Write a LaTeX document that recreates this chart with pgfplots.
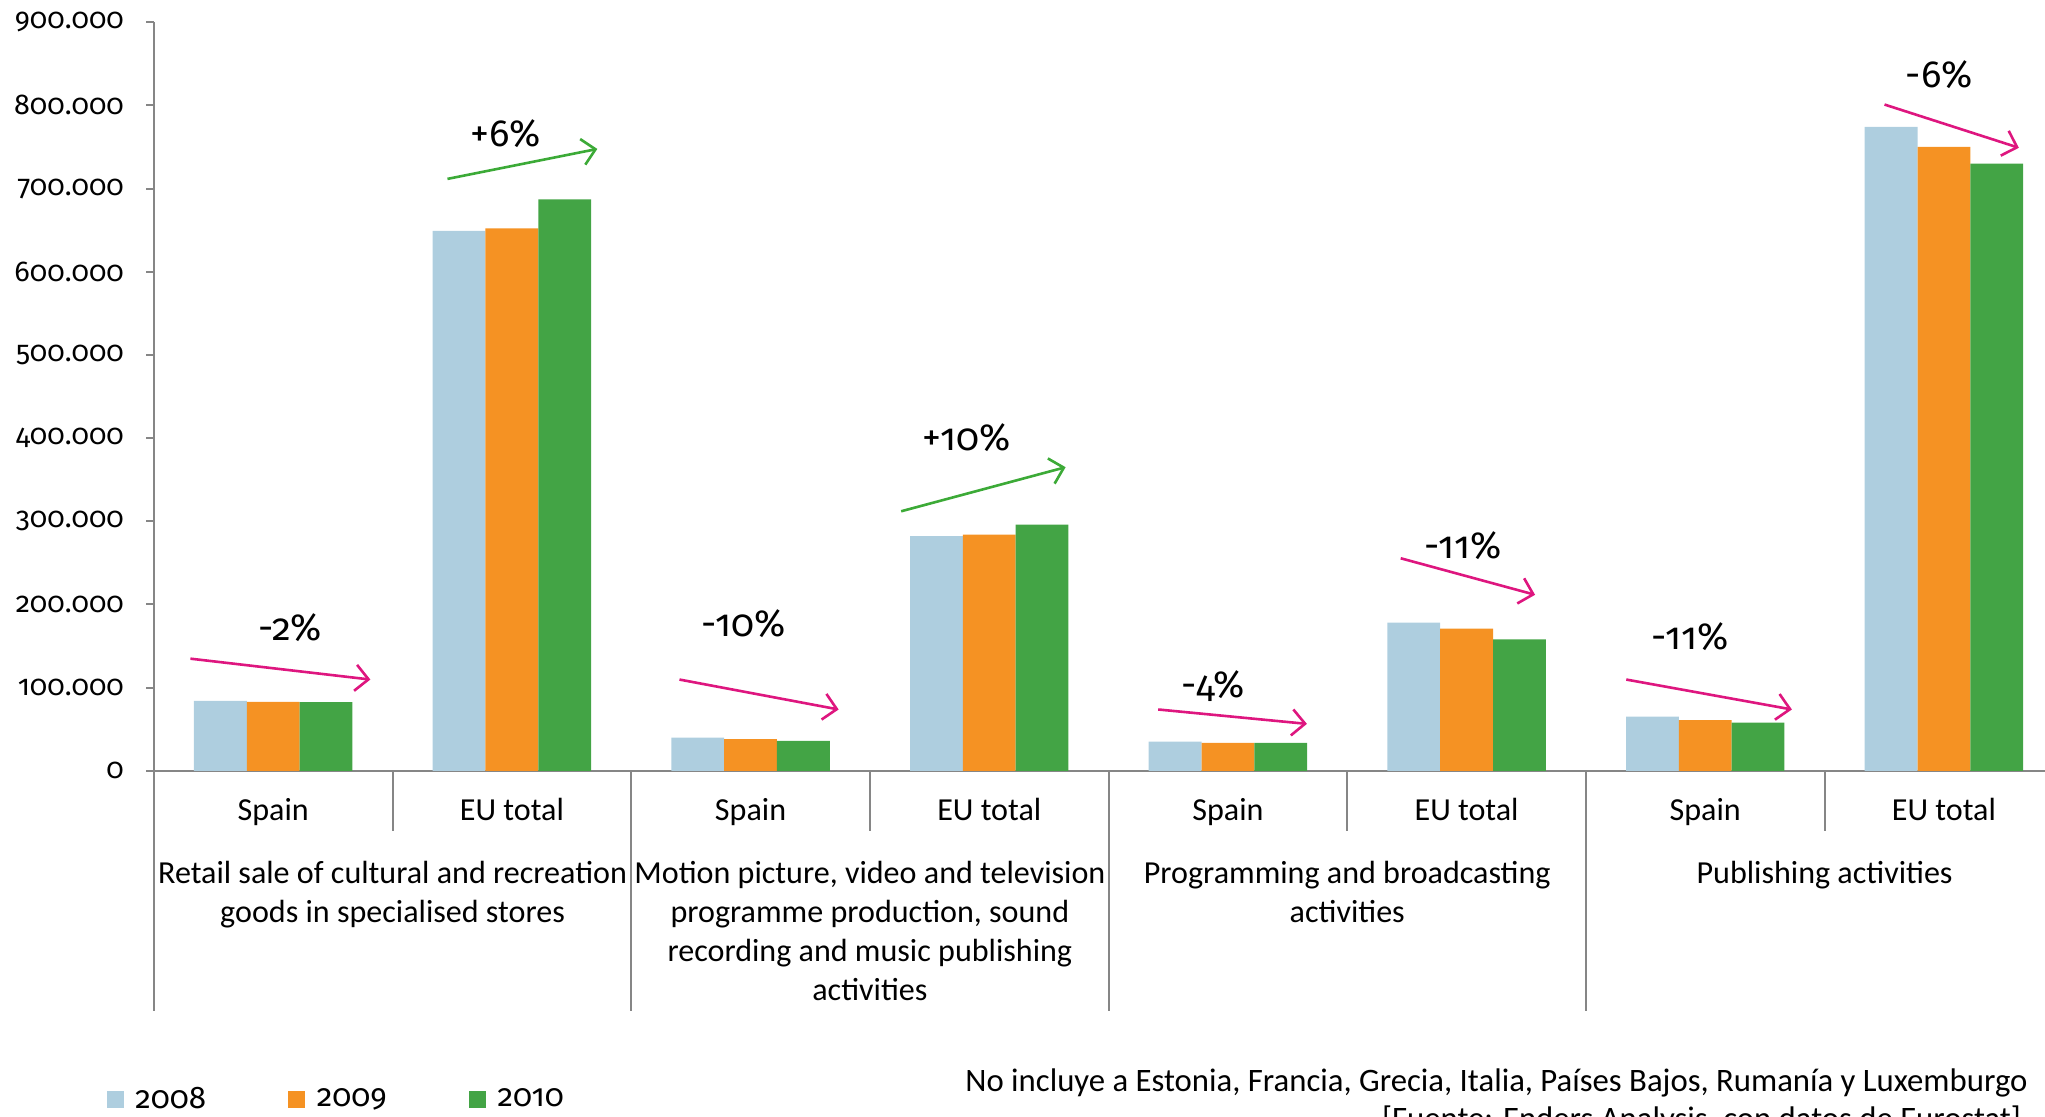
\documentclass[border=0pt]{standalone}
\usepackage{fontspec}
\setmainfont{Carlito}
\newfontfamily\numfont[Numbers=OldStyle]{Fira Sans}
\usepackage{pgfplots}
\pgfplotsset{compat=1.18}
\usetikzlibrary{arrows.meta}
\definecolor{c08}{RGB}{174,206,223}
\definecolor{c09}{RGB}{245,146,35}
\definecolor{c10}{RGB}{67,164,69}
\definecolor{axgray}{RGB}{134,134,134}
\definecolor{mag}{RGB}{222,22,127}
\definecolor{agreen}{RGB}{60,170,55}
\newcommand{\lbl}{\fontsize{12.3}{15}\selectfont}
\newcommand{\nlbl}{\numfont\fontsize{11}{14}\selectfont}
\newcommand{\pct}{\numfont\fontsize{14.5}{18}\selectfont}
\tikzset{
  decr/.style={mag, line width=1pt, -{Straight Barb[length=5pt,width=10pt,line width=1pt]}},
  incr/.style={agreen, line width=1pt, -{Straight Barb[length=5pt,width=10pt,line width=1pt]}},
  sep/.style={axgray, line width=0.8pt},
}
\pgfplotsset{
  sq/.style={legend image code/.code={\fill[#1] (0pt,-3.25pt) rectangle (6.5pt,3.25pt);}},
}
\begin{document}
\begin{tikzpicture}
\begin{axis}[
  at={(0pt,0pt)}, anchor=south west,
  scale only axis, width=732pt, height=287pt,
  xmin=-0.5, xmax=7.5, ymin=0, ymax=900000,
  axis lines*=left,
  axis line style={axgray, line width=0.8pt},
  font=\lbl,
  ytick={0,100000,200000,300000,400000,500000,600000,700000,800000,900000},
  scaled y ticks=false,
  yticklabel style={font=\nlbl, xshift=-5pt, /pgf/number format/.cd, fixed, 1000 sep={.}, assume math mode=true},
  ytick style={axgray, line width=0.8pt},
  tick align=outside, major tick length=3pt,
  xtick={0,1,2,3,4,5,6,7},
  xticklabels={Spain,EU total,Spain,EU total,Spain,EU total,Spain,EU total},
  xtick style={draw=none},
  xticklabel style={anchor=base, yshift=-16pt},
  ybar=0pt, bar width=20.25pt,
  clip=false,
  legend columns=3,
  legend style={at={(-0.025,-0.439)}, anchor=west, draw=none, fill=none,
    inner sep=0pt, font=\numfont\fontsize{12}{14}\selectfont, nodes={inner sep=1.5pt},
    /tikz/every odd column/.append style={column sep=3pt},
    /tikz/every even column/.append style={column sep=30pt}},
]
\addplot[fill=c08, draw=none, sq=c08] coordinates {(0,84000) (1,649000) (2,40000) (3,282000) (4,35000) (5,178000) (6,65000) (7,774000)};
\addplot[fill=c09, draw=none, sq=c09] coordinates {(0,83000) (1,652000) (2,38000) (3,284000) (4,33500) (5,171000) (6,61000) (7,750000)};
\addplot[fill=c10, draw=none, sq=c10] coordinates {(0,82500) (1,687000) (2,36000) (3,296000) (4,33500) (5,158000) (6,58000) (7,730000)};
\legend{2008,2009,2010}

% separators
\draw[sep] (axis cs:-0.5,0) -- ++(0pt,-92pt);
\draw[sep] (axis cs:1.5,0) -- ++(0pt,-92pt);
\draw[sep] (axis cs:3.5,0) -- ++(0pt,-92pt);
\draw[sep] (axis cs:5.5,0) -- ++(0pt,-92pt);
\draw[sep] (axis cs:7.5,0) -- ++(0pt,-92pt);
\draw[sep] (axis cs:0.5,0) -- ++(0pt,-23pt);
\draw[sep] (axis cs:2.5,0) -- ++(0pt,-23pt);
\draw[sep] (axis cs:4.5,0) -- ++(0pt,-23pt);
\draw[sep] (axis cs:6.5,0) -- ++(0pt,-23pt);
% group labels
\node[anchor=north, align=center, font=\lbl, inner sep=0pt] at ([yshift=-34.5pt]axis cs:0.5,0) {Retail sale of cultural and recreation\\goods in specialised stores};
\node[anchor=north, align=center, font=\lbl, inner sep=0pt] at ([yshift=-34.5pt]axis cs:2.5,0) {Motion picture, video and television\\programme production, sound\\recording and music publishing\\activities};
\node[anchor=north, align=center, font=\lbl, inner sep=0pt] at ([yshift=-34.5pt]axis cs:4.5,0) {Programming and broadcasting\\activities};
\node[anchor=north, align=center, font=\lbl, inner sep=0pt] at ([yshift=-34.5pt]axis cs:6.5,0) {Publishing activities};

% change annotations
\node[font=\pct] at (axis cs:0.07,172000) {-2\%};
\draw[decr] (axis cs:-0.347,134800) -- (axis cs:0.407,109700);
\node[font=\pct] at (axis cs:0.975,766000) {+6\%};
\draw[incr] (axis cs:0.73,711600) -- (axis cs:1.358,747600);
\node[font=\pct] at (axis cs:1.970,177000) {-10\%};
\draw[decr] (axis cs:1.702,109700) -- (axis cs:2.369,73700);
\node[font=\pct] at (axis cs:2.904,401000) {+10\%};
\draw[incr] (axis cs:2.631,312000) -- (axis cs:3.320,365000);
\node[font=\pct] at (axis cs:3.937,102000) {-4\%};
\draw[decr] (axis cs:3.708,73700) -- (axis cs:4.331,56400);
\node[font=\pct] at (axis cs:4.986,271000) {-11\%};
\draw[decr] (axis cs:4.724,255500) -- (axis cs:5.287,211600);
\node[font=\pct] at (axis cs:5.937,161000) {-11\%};
\draw[decr] (axis cs:5.669,109700) -- (axis cs:6.363,73700);
\node[font=\pct] at (axis cs:6.981,837000) {-6\%};
\draw[decr] (axis cs:6.751,801000) -- (axis cs:7.314,749000);
\end{axis}
% footnote
\node[anchor=east, font=\fontsize{12.55}{15}\selectfont, inner sep=0pt] at (718.5pt,-119.5pt) {No incluye a Estonia, Francia, Grecia, Italia, Países Bajos, Rumanía y Luxemburgo};
\node[anchor=east, font=\fontsize{12.55}{15}\selectfont, inner sep=0pt] at (716pt,-134pt) {[Fuente: Enders Analysis, con datos de Eurostat]};
\pgfresetboundingbox
\path[use as bounding box] (-59pt,-132.5pt) rectangle (725pt,295.5pt);
\end{tikzpicture}
\end{document}
